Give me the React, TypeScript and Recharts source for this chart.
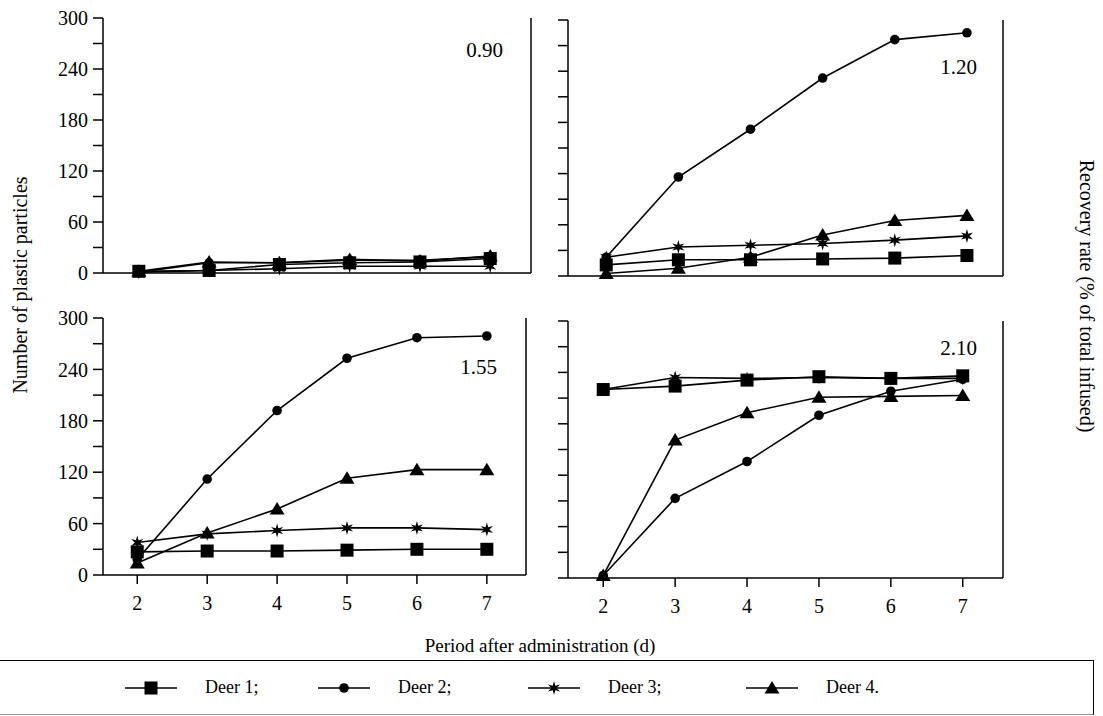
import { LineChart, Line, XAxis, YAxis } from 'recharts';

const days = [2, 3, 4, 5, 6, 7];
const leftTicks = [0, 30, 60, 90, 120, 150, 180, 210, 240, 270, 300];
const rightTicks = [0, 10, 20, 30, 40, 50, 60, 70, 80, 90, 100];

// particle counts (dose in the corner label)
const deer1_090 = [2, 3, 10, 12, 13, 17];
const deer2_090 = [1, 12, 12, 15, 15, 19];
const deer3_090 = [1, 3, 5, 8, 8, 8];
const deer4_090 = [2, 13, 12, 16, 14, 20];

const deer1_120 = [13, 19, 19, 20, 21, 24];
const deer2_120 = [22, 116, 172, 232, 277, 285];
const deer3_120 = [22, 34, 36, 38, 42, 47];
const deer4_120 = [3, 9, 22, 48, 65, 71];

const deer1_155 = [27, 28, 28, 29, 30, 30];
const deer2_155 = [18, 112, 192, 253, 277, 279];
const deer3_155 = [38, 48, 52, 55, 55, 53];
const deer4_155 = [14, 49, 77, 113, 123, 123];

const deer1_210 = [220, 224, 231, 235, 233, 236];
const deer2_210 = [3, 93, 136, 190, 218, 232];
const deer3_210 = [220, 234, 233, 234, 233, 233];
const deer4_210 = [3, 161, 193, 211, 212, 213];

const FONT = '"Liberation Serif", "DejaVu Serif", serif';
const YW = 60;
const MT = 15;
const XH = 45;

const build = (a: number[], b: number[], c: number[], d: number[]) =>
    days.map((day, i) => ({ day, deer1: a[i], deer2: b[i], deer3: c[i], deer4: d[i] }));

const SquareDot = ({ cx, cy }: any) => <rect x={cx - 6.5} y={cy - 6.5} width={13} height={13} fill="#000" />;
const CircleDot = ({ cx, cy }: any) => <circle cx={cx} cy={cy} r={4.8} fill="#000" />;
const TriangleDot = ({ cx, cy }: any) => (
    <polygon points={`${cx},${cy - 7} ${cx - 7.5},${cy + 5.5} ${cx + 7.5},${cy + 5.5}`} fill="#000" />
);
const StarDot = ({ cx, cy }: any) => {
    const pts: string[] = [];
    for (let i = 0; i < 12; i++) {
        const r = i % 2 === 0 ? 7 : 2.6;
        const a = (Math.PI / 6) * i - Math.PI / 2;
        pts.push(`${cx + r * Math.cos(a)},${cy + r * Math.sin(a)}`);
    }
    return <polygon points={pts.join(' ')} fill="#000" />;
};

const series = [
    { key: 'deer1', Dot: SquareDot },
    { key: 'deer2', Dot: CircleDot },
    { key: 'deer3', Dot: StarDot },
    { key: 'deer4', Dot: TriangleDot },
];

type PanelProps = {
    data: any[];
    left: number;
    top: number;
    w: number;
    h: number;
    xDomain: [number, number];
    leftLabels?: boolean;
    rightLabels?: boolean;
    xLabels?: boolean;
};

function Panel({ data, left, top, w, h, xDomain, leftLabels, rightLabels, xLabels }: PanelProps) {
    const tickStyle = { fontSize: 20, fill: '#000', fontFamily: FONT };
    return (
        <div style={{ position: 'absolute', left: left - YW, top: top - MT }}>
            <LineChart width={w + 2 * YW} height={h + MT + XH} data={data} margin={{ top: MT, right: 0, bottom: 0, left: 0 }}>
                <XAxis
                    xAxisId="b"
                    dataKey="day"
                    type="number"
                    domain={xDomain}
                    ticks={days}
                    interval={0}
                    height={XH}
                    tickSize={9}
                    tickMargin={12}
                    stroke="#000"
                    strokeWidth={1.5}
                    tick={xLabels ? tickStyle : false}
                />
                <XAxis
                    xAxisId="t"
                    orientation="top"
                    dataKey="day"
                    type="number"
                    domain={xDomain}
                    height={0}
                    tick={false}
                    tickLine={false}
                    stroke="#000"
                    strokeWidth={1.5}
                />
                <YAxis
                    yAxisId="l"
                    type="number"
                    domain={[0, 300]}
                    ticks={leftTicks}
                    interval={0}
                    width={YW}
                    tickSize={10}
                    tickMargin={5}
                    stroke="#000"
                    strokeWidth={1.5}
                    tick={tickStyle}
                    tickFormatter={(v: number) => (leftLabels && v % 60 === 0 ? String(v) : '')}
                />
                <YAxis
                    yAxisId="r"
                    orientation="right"
                    type="number"
                    domain={[0, 100]}
                    ticks={rightTicks}
                    interval={0}
                    width={YW}
                    tickSize={10}
                    tickMargin={11}
                    stroke="#000"
                    strokeWidth={1.5}
                    tick={{ ...tickStyle, textAnchor: 'start' }}
                    tickFormatter={(v: number) => (rightLabels && v % 20 === 0 ? String(v) : '')}
                />
                {series.map(({ key, Dot }) => (
                    <Line
                        key={key}
                        xAxisId="b"
                        yAxisId="l"
                        dataKey={key}
                        stroke="#000"
                        strokeWidth={1.6}
                        type="linear"
                        isAnimationActive={false}
                        dot={(p: any) => <Dot key={`${key}-${p.index}`} cx={p.cx} cy={p.cy} />}
                        activeDot={false}
                    />
                ))}
            </LineChart>
        </div>
    );
}

const Note = ({ text, right, cy }: { text: string; right: number; cy: number }) => (
    <div style={{ position: 'absolute', left: right - 60, width: 60, top: cy - 12, fontSize: 21, lineHeight: '24px', textAlign: 'right', fontFamily: FONT }}>
        {text}
    </div>
);

const LegendItem = ({ x, label, Dot }: { x: number; label: string; Dot: any }) => (
    <div style={{ position: 'absolute', left: x, top: 0, height: 53, display: 'flex', alignItems: 'center' }}>
        <svg width={52} height={20}>
            <line x1={0} y1={10} x2={52} y2={10} stroke="#000" strokeWidth={1.6} />
            <Dot cx={26} cy={10} />
        </svg>
        <span style={{ marginLeft: 28, fontSize: 18, fontFamily: FONT }}>{label}</span>
    </div>
);

export default function App() {
    return (
        <div style={{ position: 'absolute', left: 0, top: 0, width: 1103, height: 716, background: '#fff', overflow: 'hidden', fontFamily: FONT }}>
            <Panel data={build(deer1_090, deer2_090, deer3_090, deer4_090)} left={103} top={18} w={428} h={255} xDomain={[1.49, 7.58]} leftLabels />
            <Panel data={build(deer1_120, deer2_120, deer3_120, deer4_120)} left={568} top={20} w={435} h={256} xDomain={[1.47, 7.5]} rightLabels />
            <Panel data={build(deer1_155, deer2_155, deer3_155, deer4_155)} left={103} top={318} w={423} h={257} xDomain={[1.51, 7.56]} leftLabels xLabels />
            <Panel data={build(deer1_210, deer2_210, deer3_210, deer4_210)} left={568} top={321} w={435} h={257} xDomain={[1.51, 7.56]} rightLabels xLabels />

            <Note text="0.90" right={503} cy={50} />
            <Note text="1.20" right={977} cy={67} />
            <Note text="1.55" right={497} cy={367} />
            <Note text="2.10" right={977} cy={348} />

            <div style={{ position: 'absolute', left: 20, top: 285, transform: 'translate(-50%, -50%) rotate(-90deg)', whiteSpace: 'nowrap', fontSize: 20 }}>
                Number of plastic particles
            </div>
            <div style={{ position: 'absolute', left: 1086, top: 296, transform: 'translate(-50%, -50%) rotate(90deg)', whiteSpace: 'nowrap', fontSize: 20 }}>
                Recovery rate (% of total infused)
            </div>
            <div style={{ position: 'absolute', left: 540, top: 646, transform: 'translate(-50%, -50%)', whiteSpace: 'nowrap', fontSize: 19 }}>
                Period after administration (d)
            </div>

            <div style={{ position: 'absolute', left: -2, top: 660, width: 1095, height: 53, borderTop: '1.5px solid #000', borderRight: '1.5px solid #000', borderBottom: '1px solid #999' }}>
                <LegendItem x={127} label="Deer 1;" Dot={SquareDot} />
                <LegendItem x={320} label="Deer 2;" Dot={CircleDot} />
                <LegendItem x={530} label="Deer 3;" Dot={StarDot} />
                <LegendItem x={748} label="Deer 4." Dot={TriangleDot} />
            </div>
        </div>
    );
}
